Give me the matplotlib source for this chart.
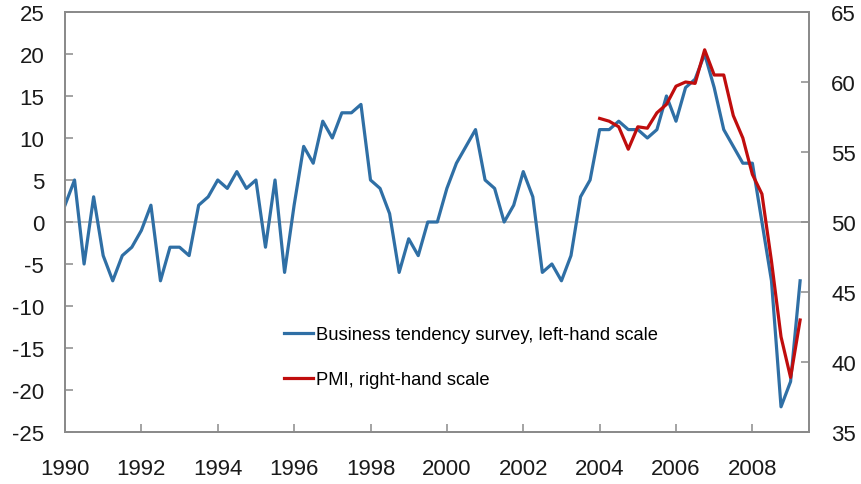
import numpy as np
import matplotlib
matplotlib.use("Agg")
import matplotlib.pyplot as plt

plt.rcParams['font.family'] = ['Liberation Sans', 'DejaVu Sans']
plt.rcParams['axes.unicode_minus'] = False

# business tendency survey, quarterly from 1990Q1 (left-hand scale)
bts = [2, 5, -5, 3,
       -4, -7, -4, -3,
       -1, 2, -7, -3,
       -3, -4, 2, 3,
       5, 4, 6, 4,
       5, -3, 5, -6,
       2, 9, 7, 12,
       10, 13, 13, 14,
       5, 4, 1, -6,
       -2, -4, 0, 0,
       4, 7, 9, 11,
       5, 4, 0, 2,
       6, 3, -6, -5,
       -7, -4, 3, 5,
       11, 11, 12, 11,
       11, 10, 11, 15,
       12, 16, 17, 20,
       16, 11, 9, 7,
       7, 0, -7, -22,
       -19, -7]

# PMI, quarterly from 2004Q1 (right-hand scale)
pmi = [57.4, 57.2, 56.8, 55.2,
       56.8, 56.7, 57.8, 58.4,
       59.7, 60.0, 59.9, 62.3,
       60.5, 60.5, 57.6, 56.0,
       53.4, 52.0, 47.2, 41.8,
       38.9, 43.0]

bts_start = 1990
pmi_start = 2004
years = list(range(1990, 2010, 2))

t_bts = bts_start + np.arange(len(bts)) * 0.25
t_pmi = pmi_start + np.arange(len(pmi)) * 0.25

blue = '#2f6fa5'
red = '#c00d0d'
grey = '#8a8a8a'

fig = plt.figure(figsize=(8.62, 4.85), dpi=100)
ax = fig.add_axes([0.0754, 0.1072, 0.863, 0.866])
ax2 = ax.twinx()

ax.axhline(0, color='#b4b4b4', lw=1.3, zorder=1)
l1, = ax.plot(t_bts, bts, color=blue, lw=2.3, zorder=3,
              label='Business tendency survey, left-hand scale')
l2, = ax2.plot(t_pmi, pmi, color=red, lw=2.3, zorder=3,
               label='PMI, right-hand scale')

ax.set_xlim(1990, 2009.48)
ax.set_ylim(-25, 25)
ax2.set_ylim(35, 65)
ax.set_xticks(years)
ax.set_yticks(range(-25, 26, 5))
ax2.set_yticks(range(35, 66, 5))

for a in (ax, ax2):
    for s in a.spines.values():
        s.set_color(grey)
        s.set_linewidth(1.3)
ax.tick_params(axis='both', direction='in', length=6, width=1.1, color=grey,
               labelsize=16, labelcolor='#1a1a1a')
ax.tick_params(axis='y', pad=15)
ax.tick_params(axis='x', pad=19)
ax2.tick_params(axis='y', direction='in', length=6, width=1.1, color=grey,
                labelsize=16, labelcolor='#1a1a1a', pad=16)

leg = ax.legend(handles=[l1, l2], loc='upper left', bbox_to_anchor=(0.284, 0.27),
                frameon=False, fontsize=13.2, handlelength=1.6, handletextpad=0.15,
                labelspacing=1.55, borderaxespad=0)

fig.savefig('out.png', dpi=100)
